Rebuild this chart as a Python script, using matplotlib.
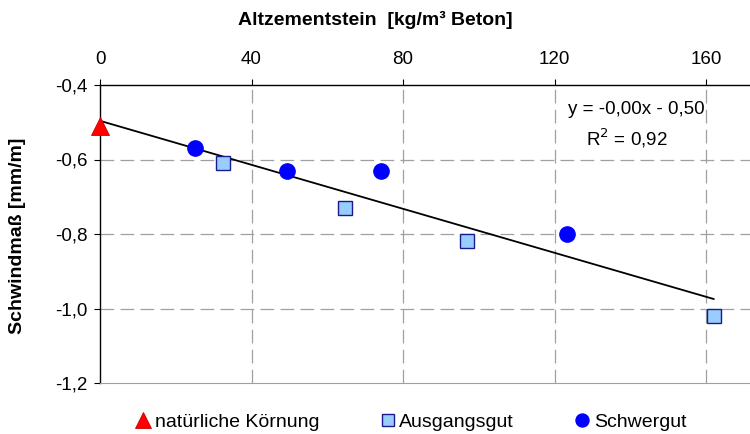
import matplotlib
matplotlib.use("Agg")
import matplotlib.pyplot as plt
import numpy as np

plt.rcParams['font.family'] = ['Liberation Sans', 'DejaVu Sans']

# Messwerte
x_nat = [0]
y_nat = [-0.51]
x_ausg = [32.5, 64.8, 97.0, 162.0]
y_ausg = [-0.61, -0.73, -0.82, -1.02]
x_schwer = [25.0, 49.3, 74.1, 123.4]
y_schwer = [-0.57, -0.63, -0.63, -0.80]

xticks = [0, 40, 80, 120, 160]
yticks = [-0.4, -0.6, -0.8, -1.0, -1.2]
ytick_labels = ['-0,4', '-0,6', '-0,8', '-1,0', '-1,2']

# lineare Trendlinie über alle Punkte
x_all = np.array(x_nat + x_ausg + x_schwer)
y_all = np.array(y_nat + y_ausg + y_schwer)
m, b = np.polyfit(x_all, y_all, 1)
xt = np.array([0, x_all.max()])

fig = plt.figure(figsize=(7.5, 4.34), dpi=100)
ax = fig.add_axes([100/750, 1-383/434, 650/750, (383-85)/434])

grid_kw = dict(color='#a0a0a0', lw=0.9, ls=(0, (11, 5)), zorder=0)
for xv in xticks[1:]:
    ax.axvline(xv, **grid_kw)
for yv in yticks[1:-1]:
    ax.axhline(yv, **grid_kw)

ax.plot(xt, m*xt + b, color='black', lw=1.3, zorder=2)
ax.plot(x_nat, y_nat, '^', ms=13, mfc='#ff0000', mec='#cc0000', mew=0.6,
        ls='none', label='natürliche Körnung', zorder=4, clip_on=False)
ax.plot(x_ausg, y_ausg, 's', ms=10.5, mfc='#99ccff', mec='#1a1a8c', mew=1.0,
        ls='none', label='Ausgangsgut', zorder=3, clip_on=False)
ax.plot(x_schwer, y_schwer, 'o', ms=11, mfc='#0000ff', mec='#0000ff',
        ls='none', label='Schwergut', zorder=3, clip_on=False)

ax.set_xlim(0, 171.6)
ax.set_ylim(-1.2, -0.4)
ax.xaxis.tick_top()
ax.set_xticks(xticks)
ax.set_yticks(yticks)
ax.set_yticklabels(ytick_labels)
ax.tick_params(axis='both', labelsize=13.5, direction='out', length=4, width=0.8)
ax.tick_params(axis='x', pad=8)
ax.tick_params(axis='y', pad=5)

ax.spines['right'].set_visible(False)
ax.spines['bottom'].set_color('#a0a0a0')
ax.spines['top'].set_linewidth(1.0)
ax.spines['left'].set_linewidth(1.0)

ax.text(141.5, -0.467, 'y = -0,00x - 0,50', ha='center', va='center', fontsize=13.5)
ax.text(139, -0.542, 'R$^2$ = 0,92', ha='center', va='center', fontsize=13.5)

fig.text(375/750, 1-20/434, 'Altzementstein  [kg/m³ Beton]', ha='center',
         va='center', fontsize=14, fontweight='bold')
fig.text(18/750, 1-236/434, 'Schwindmaß [mm/m]', ha='center', va='center',
         rotation=90, fontsize=14, fontweight='bold')

fig.legend(loc='center', bbox_to_anchor=(412/750, 1-422/434), ncol=3,
           frameon=False, fontsize=14, markerscale=0.85, handlelength=0.6,
           handletextpad=0.3, columnspacing=3.2)

fig.savefig('out.png', dpi=100)
